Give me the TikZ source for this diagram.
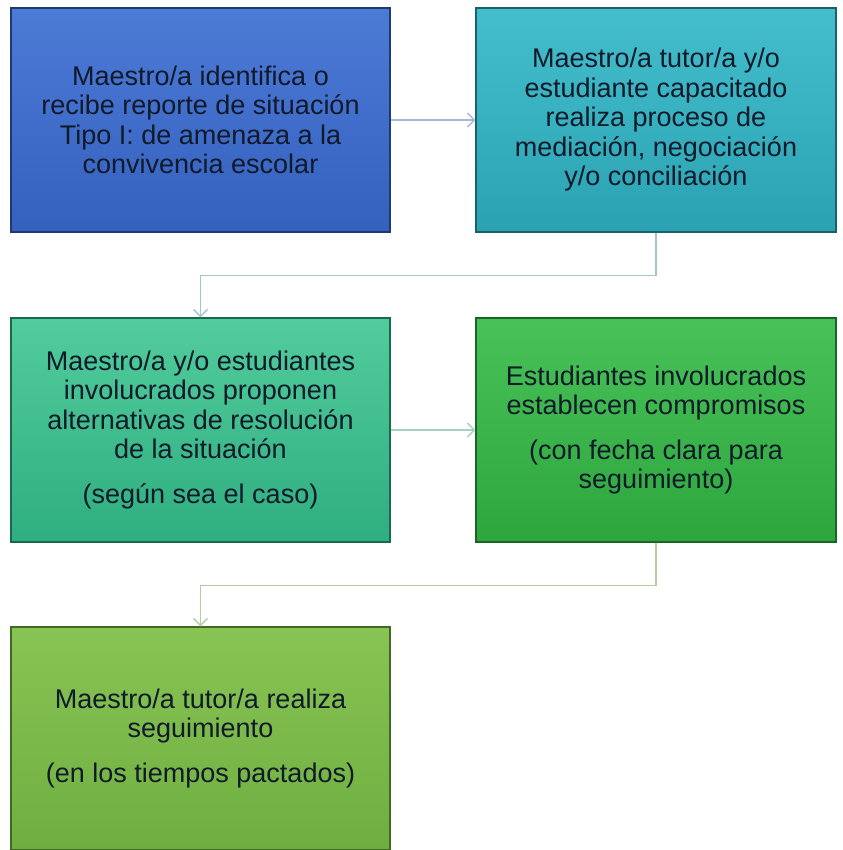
\documentclass[tikz,border=0pt]{standalone}
\usepackage{fontspec}
\setmainfont{Liberation Sans}
\usepackage{xcolor}
\usetikzlibrary{arrows.meta}

\begin{document}
\begin{tikzpicture}[x=1pt,y=1pt,
  stepnode/.style={rectangle,minimum width=379,minimum height=224,inner sep=0,
    align=center,font=\fontsize{27}{29.5}\selectfont,text=textdark,line width=1.2},
  flow/.style={line width=1.5,-{Straight Barb[length=7,width=14]}}]
\definecolor{textdark}{HTML}{111A2A}
\definecolor{blueA}{HTML}{4C7BD6}
\definecolor{blueB}{HTML}{3460BE}
\definecolor{tealA}{HTML}{44BECC}
\definecolor{tealB}{HTML}{2AA2B2}
\definecolor{mintA}{HTML}{52CC9C}
\definecolor{mintB}{HTML}{2FAE80}
\definecolor{greenA}{HTML}{48C258}
\definecolor{greenB}{HTML}{2EA63E}
\definecolor{leafA}{HTML}{88C454}
\definecolor{leafB}{HTML}{6EAE40}
\definecolor{lineblue}{HTML}{A6B8D6}
\definecolor{lineteal}{HTML}{9CC8CC}
\definecolor{linemint}{HTML}{A8D0C0}
\definecolor{linegreen}{HTML}{B4CCA4}
\useasboundingbox (0,0) rectangle (842,850);
  \node [stepnode,top color=blueA,bottom color=blueB,draw=blueB!60!black] (report) at (200.5,730)
    {Maestro/a identifica o\\recibe reporte de situación\\Tipo I: de amenaza a la\\convivencia escolar};
  \node [stepnode,minimum width=360,top color=tealA,bottom color=tealB,draw=tealB!60!black] (mediate) at (656,730)
    {Maestro/a tutor/a y/o\\estudiante capacitado\\realiza proceso de\\mediación, negociación\\y/o conciliación};
  \node [stepnode,top color=mintA,bottom color=mintB,draw=mintB!60!black] (propose) at (200.5,420)
    {Maestro/a y/o estudiantes\\involucrados proponen\\alternativas de resolución\\de la situación\\[15pt](según sea el caso)};
  \node [stepnode,minimum width=360,top color=greenA,bottom color=greenB,draw=greenB!60!black] (commit) at (656,420)
    {Estudiantes involucrados\\establecen compromisos\\[15pt](con fecha clara para\\seguimiento)};
  \node [stepnode,minimum height=223,top color=leafA,bottom color=leafB,draw=leafB!60!black] (follow) at (200.5,111.5)
    {Maestro/a tutor/a realiza\\seguimiento\\[15pt](en los tiempos pactados)};
  \draw [flow,color=lineblue] (report) -- (mediate);
  \draw [flow,color=lineteal] (mediate.south) -- ++(0,-43) -| (propose.north);
  \draw [flow,color=linemint] (propose) -- (commit);
  \draw [flow,color=linegreen] (commit.south) -- ++(0,-43) -| (follow.north);
\end{tikzpicture}
\end{document}
